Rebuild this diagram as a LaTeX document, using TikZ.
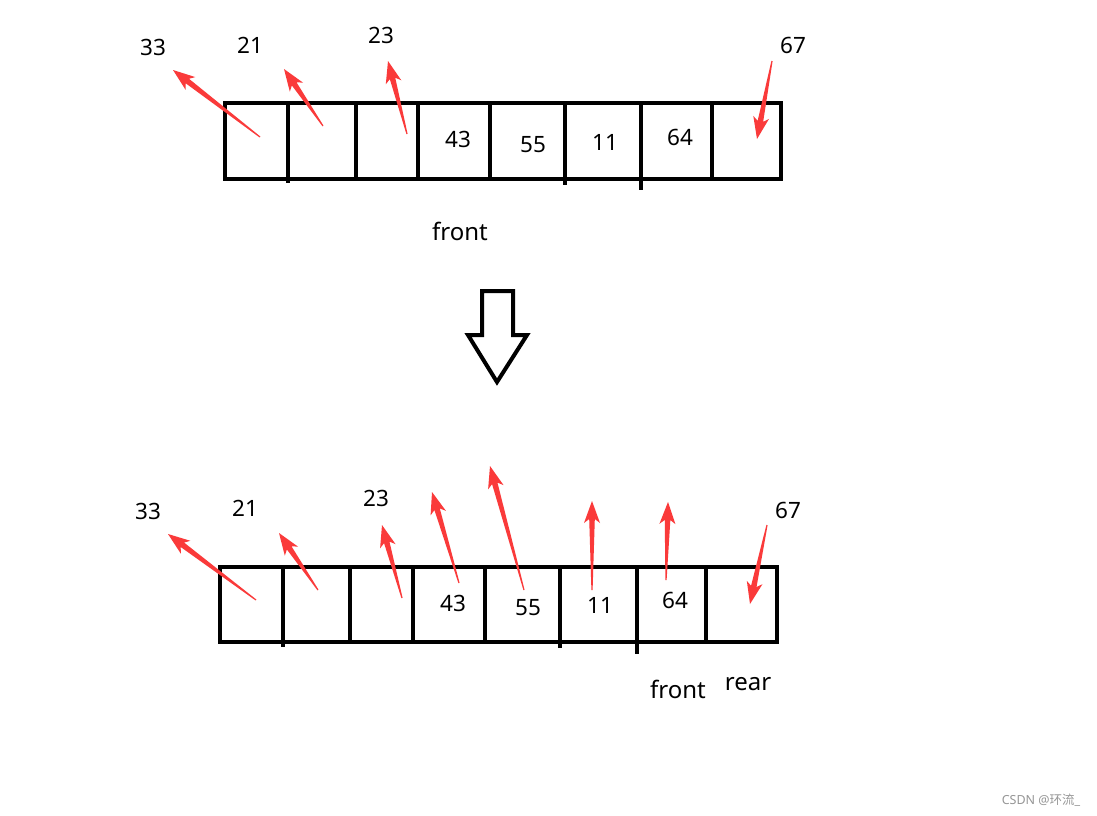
\documentclass[tikz,border=0pt]{standalone}
\usepackage{fontspec}
\setmainfont{Noto Sans}
\newfontfamily\cjk{Noto Sans CJK SC}
\usetikzlibrary{calc}
\definecolor{arrowred}{RGB}{250,58,58}
\definecolor{wmgray}{RGB}{150,150,150}
\newcommand\redarrow[2]{%
  \coordinate (tl) at (#1);
  \coordinate (tp) at (#2);
  \coordinate (hb) at ($(tp)!22pt!(tl)$);
  \coordinate (sj) at ($(tp)!18pt!(tl)$);
  \fill[arrowred] (tp) -- ($(hb)!8pt!90:(tl)$) -- ($(sj)!2.8pt!90:(tl)$)
    -- ($(tl)!0.6pt!-90:(tp)$) -- ($(tl)!0.6pt!90:(tp)$)
    -- ($(sj)!2.8pt!-90:(tl)$) -- ($(hb)!8pt!-90:(tl)$) -- cycle;
}
\tikzset{
  cell/.style={line width=4pt, line cap=rect},
  num/.style={font=\fontsize{22.5}{26}\selectfont, inner sep=0pt, anchor=center},
  lbl/.style={font=\fontsize{24}{28}\selectfont, inner sep=0pt, anchor=center},
}
\begin{document}
\begin{tikzpicture}[x=1pt,y=-1pt]
\useasboundingbox (0,0) rectangle (1097,815);
\fill[white] (0,0) rectangle (1097,815);

% ---------- top array ----------
\draw[cell] (225,103) rectangle (781,179);
\draw[cell] (288,103) -- (288,181);
\draw[cell] (356,103) -- (356,179);
\draw[cell] (418,103) -- (418,179);
\draw[cell] (490,103) -- (490,179);
\draw[cell] (565,103) -- (565,183);
\draw[cell] (641,103) -- (641,188);
\draw[cell] (712,103) -- (712,179);

\node[num] (t43) at (458,139) {43};
\node[num] (t55) at (533,145) {55};
\node[num] (t11) at (605,142) {11};
\node[num] (t64) at (680,137) {64};
\node[lbl] (tfront) at (460,231) {front};

\node[num] (t33) at (153,47) {33};
\node[num] (t21) at (250,45) {21};
\node[num] (t23) at (381,35) {23};
\node[num] (t67) at (793,45) {67};

\redarrow{260,137}{173,70}
\redarrow{323,126}{284,69}
\redarrow{407,134}{388,61}
\redarrow{772,61}{757,139}

% ---------- big hollow arrow ----------
\draw[line width=4pt, line join=miter] (482,291) -- (513,291) -- (513,335) -- (527,335)
  -- (497,382) -- (468,335) -- (482,335) -- cycle;

% ---------- bottom array ----------
\draw[cell] (220,567) rectangle (777,642);
\draw[cell] (283,567) -- (283,645);
\draw[cell] (350,567) -- (350,642);
\draw[cell] (413,567) -- (413,642);
\draw[cell] (485,567) -- (485,642);
\draw[cell] (560,567) -- (560,646);
\draw[cell] (637,567) -- (637,652);
\draw[cell] (706,567) -- (706,642);

\node[num] (b43) at (453,603) {43};
\node[num] (b55) at (528,608) {55};
\node[num] (b11) at (600,605) {11};
\node[num] (b64) at (675,600) {64};
\node[lbl] (bfront) at (678,689) {front};
\node[lbl] (brear) at (748,684) {rear};

\node[num] (b33) at (148,511) {33};
\node[num] (b21) at (245,508) {21};
\node[num] (b23) at (376,498) {23};
\node[num] (b67) at (788,510) {67};

\redarrow{256,600}{168,534}
\redarrow{318,590}{279,533}
\redarrow{402,598}{382,525}
\redarrow{459,583}{432,492}
\redarrow{524,590}{490,466}
\redarrow{592,590}{592,501}
\redarrow{666,580}{668,502}
\redarrow{767,525}{750,604}

% ---------- watermark ----------
\node[font=\fontsize{12.5}{15}\selectfont, text=wmgray, inner sep=0pt] (wm) at (1041,800) {CSDN @{\cjk 环流}\_};
\end{tikzpicture}
\end{document}
